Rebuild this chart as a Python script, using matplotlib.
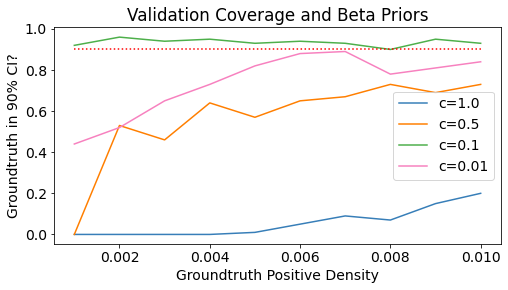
import numpy as np
import matplotlib
matplotlib.use('Agg')
import matplotlib.pyplot as plt

density = [0.001, 0.002, 0.003, 0.004, 0.005, 0.006, 0.007, 0.008, 0.009, 0.010]
cov_c1 = [0.0, 0.0, 0.0, 0.0, 0.01, 0.05, 0.09, 0.07, 0.15, 0.20]
cov_c05 = [0.0, 0.53, 0.46, 0.64, 0.57, 0.65, 0.67, 0.73, 0.69, 0.73]
cov_c01 = [0.92, 0.96, 0.94, 0.95, 0.93, 0.94, 0.93, 0.90, 0.95, 0.93]
cov_c001 = [0.44, 0.52, 0.65, 0.73, 0.82, 0.88, 0.89, 0.78, 0.81, 0.84]
target = 0.9

plt.rcParams['font.size'] = 14

# 72 dpi so line widths and paddings come out like the original
fig = plt.figure(figsize=(508 / 72, 290 / 72), dpi=72)
ax = fig.add_axes([0.1063, 0.1576, 0.8799, 0.7484])

ax.plot(density, cov_c1, color='#377eb8', label='c=1.0')
ax.plot(density, cov_c05, color='#ff7f00', label='c=0.5')
ax.plot(density, cov_c01, color='#4daf4a', label='c=0.1')
ax.plot(density, cov_c001, color='#f781bf', label='c=0.01')
ax.plot(density, [target] * len(density), 'r:')

ax.set_title('Validation Coverage and Beta Priors', fontsize='large')
ax.set_xlabel('Groundtruth Positive Density')
ax.set_ylabel('Groundtruth in 90% CI?')
ax.legend(loc='center right')

fig.savefig('out.png', dpi=72)
